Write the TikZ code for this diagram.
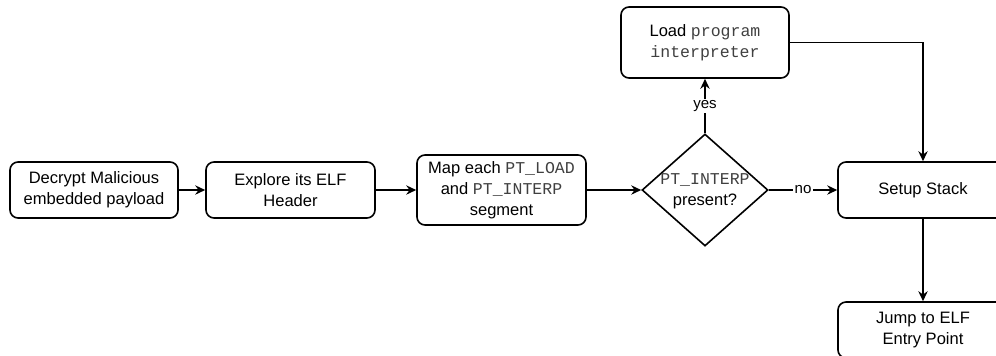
\documentclass[tikz,border=0pt]{standalone}
\usepackage{fontspec}
\setmainfont{Liberation Sans}
\setmonofont{Liberation Mono}
\usetikzlibrary{shapes.geometric,arrows.meta}
\newcommand{\mono}[1]{{\ttfamily\color{black!75}#1}}
\begin{document}
\begin{tikzpicture}[x=0.75pt,y=-0.75pt,
  every node/.style={font=\fontsize{12.4pt}{15.75pt}\selectfont},
  box/.style={draw, rounded corners=6pt, line width=1.2pt, align=center, inner sep=0pt},
  lbl/.style={fill=white, inner sep=1pt, font=\fontsize{11.3pt}{13pt}\selectfont},
  arr/.style={line width=1.2pt, -{Stealth[length=7.5pt,width=7pt,inset=2.5pt]}}]
\useasboundingbox (0,0) rectangle (996,355);
\clip (0,0) rectangle (996,355);
\node[box, minimum width=126pt, minimum height=42pt] (b1) at (94,190) {Decrypt Malicious\\embedded payload};
\node[box, minimum width=126.75pt, minimum height=42pt] (b2) at (290.5,190) {Explore its ELF\\Header};
\node[box, minimum width=126.75pt, minimum height=52.5pt] (b3) at (501.5,190) {Map each \mono{PT\_LOAD}\\and \mono{PT\_INTERP}\\segment};
\node[draw, diamond, line width=1.2pt, minimum width=94.5pt, minimum height=84pt, inner sep=0pt] (d) at (705,190) {};
\node[align=center, inner sep=0pt] (dt) at (705,191) {\mono{PT\_INTERP}\\present?};
\node[box, minimum width=126pt, minimum height=53.25pt] (ld) at (705,42.5) {Load \mono{program}\\\mono{interpreter}};
\node[box, minimum width=127.5pt, minimum height=42pt] (ss) at (923,190) {Setup Stack};
\node[box, minimum width=127.5pt, minimum height=42pt] (jp) at (923,330) {Jump to ELF\\Entry Point};
\draw[arr] (b1) -- (b2);
\draw[arr] (b2) -- (b3);
\draw[arr] (b3) -- (d.west);
\draw[arr] (d.north) -- node[lbl] {yes} (ld.south);
\draw[arr] (d.east) -- node[lbl] {no} (ss.west);
\draw[arr] (ld.east) -| (ss.north);
\draw[arr] (ss.south) -- (jp.north);
\end{tikzpicture}
\end{document}
